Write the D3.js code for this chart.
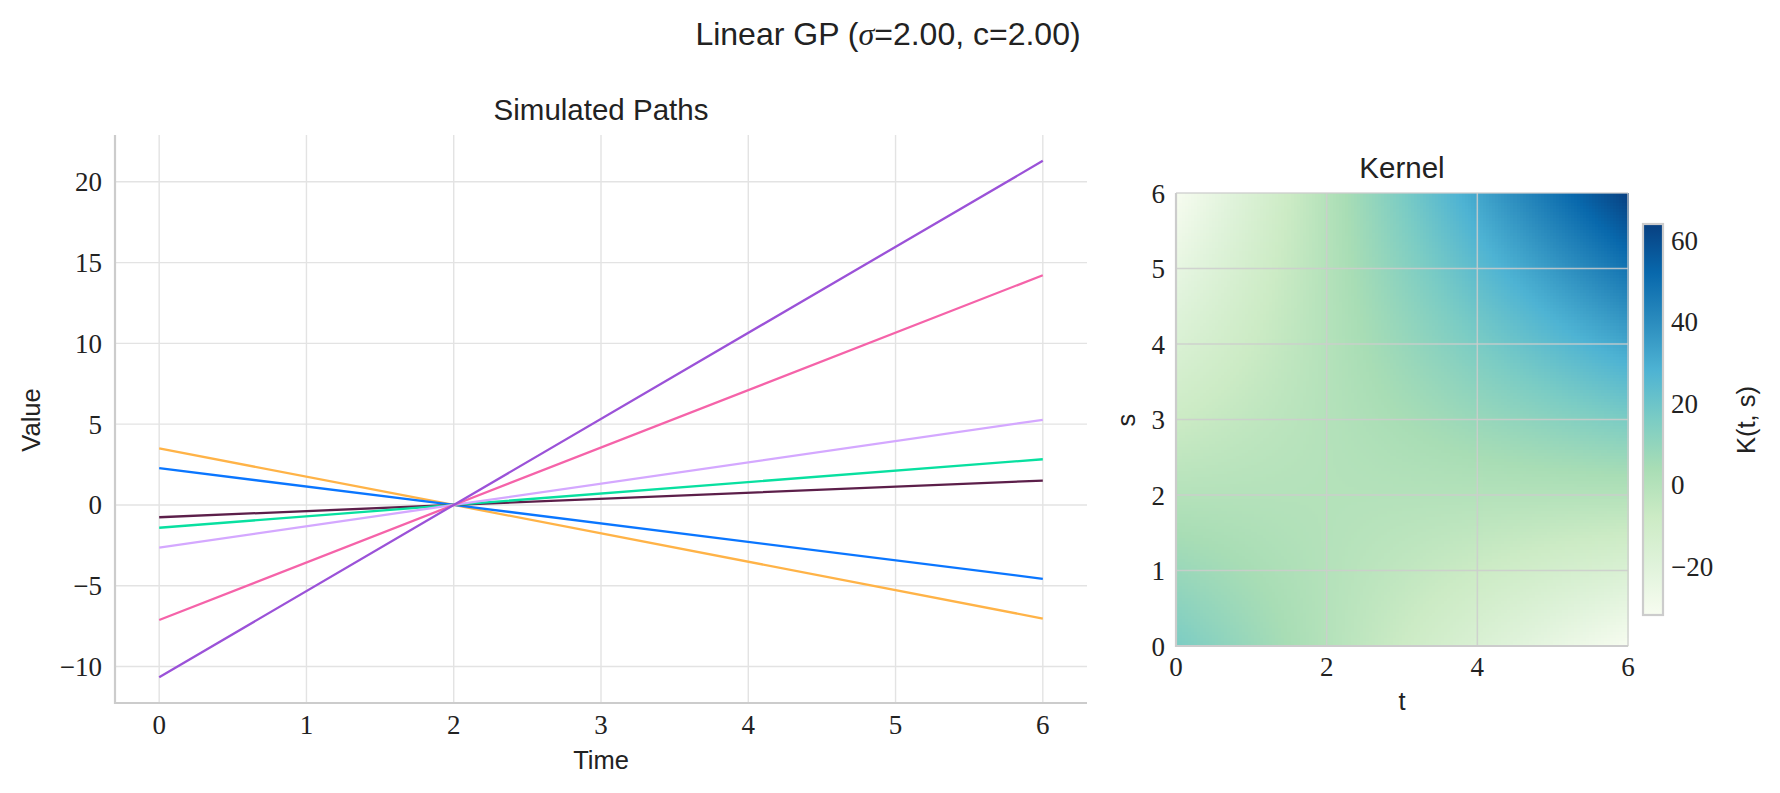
<!DOCTYPE html>
<html><head><meta charset="utf-8">
<script src="https://cdn.jsdelivr.net/npm/d3@7"></script>
<style>body{margin:0;background:#fff} svg{display:block}</style>
</head><body><svg id="c" width="1780" height="793"></svg>
<script>
// ---------- data ----------
const timePoints = [0, 2, 6];
const pathPurple   = [-10.66, 0, 21.30];
const pathPink     = [-7.12, 0, 14.22];
const pathLavender = [-2.64, 0, 5.27];
const pathGreen    = [-1.41, 0, 2.83];
const pathDark     = [-0.76, 0, 1.51];
const pathBlue     = [2.28, 0, -4.57];
const pathOrange   = [3.50, 0, -7.03];
const pathSeries = [pathOrange, pathBlue, pathDark, pathGreen, pathLavender, pathPink, pathPurple];
const pathColors = ["#ffb347", "#0a76ff", "#5c1f4a", "#08e0a0", "#d4a8ff", "#f563a9", "#9b52d8"];

const xTicks = [0, 1, 2, 3, 4, 5, 6];
const yTicks = [-10, -5, 0, 5, 10, 15, 20];

// kernel values K(t,s) read at integer grid points (rows = s, cols = t)
const kernelT = [0, 1, 2, 3, 4, 5, 6];
const kernelS = [0, 1, 2, 3, 4, 5, 6];
const kernelRows = [
  [16, 8, 0, -8, -16, -24, -32],
  [8, 4, 0, -4, -8, -12, -16],
  [0, 0, 0, 0, 0, 0, 0],
  [-8, -4, 0, 4, 8, 12, 16],
  [-16, -8, 0, 8, 16, 24, 32],
  [-24, -12, 0, 12, 24, 36, 48],
  [-32, -16, 0, 16, 32, 48, 64]
];
const kernelXTicks = [0, 2, 4, 6];
const kernelYTicks = [0, 1, 2, 3, 4, 5, 6];
const colorbarTicks = [-20, 0, 20, 40, 60];
const gnbuStops = ["#f7fcf0","#e0f3db","#ccebc5","#a8ddb5","#7bccc4","#4eb3d3","#2b8cbe","#0868ac","#084081"];

// ---------- setup ----------
const SANS = "'Liberation Sans', Arial, sans-serif";
const SERIF = "'Liberation Serif', 'Times New Roman', serif";
const TICK = 27, LABEL = 25.5, TITLE = 29.5;
const svg = d3.select("#c");
const fmt = v => (v < 0 ? "\u2212" + Math.abs(v) : String(v));

svg.append("text").attr("x", 888).attr("y", 45).attr("text-anchor", "middle")
  .attr("font-family", SANS).attr("font-size", 32).attr("fill", "#222")
  .html("Linear GP (<tspan font-family=\"Liberation Serif, serif\" font-style=\"italic\">σ</tspan>=2.00, c=2.00)");

// ---------- left: simulated paths ----------
const L = {x0: 115, x1: 1087, y0: 135, y1: 703};
const x = d3.scaleLinear().domain([-0.3, 6.3]).range([L.x0, L.x1]);
const allV = pathSeries.flat();
const ymin = d3.min(allV), ymax = d3.max(allV), pad = (ymax - ymin) * 0.05;
const y = d3.scaleLinear().domain([ymin - pad, ymax + pad]).range([L.y1, L.y0]);

const gL = svg.append("g");
gL.selectAll("line.gx").data(xTicks).join("line")
  .attr("x1", d => x(d)).attr("x2", d => x(d)).attr("y1", L.y0).attr("y2", L.y1)
  .attr("stroke", "#e3e3e3").attr("stroke-width", 1.4);
gL.selectAll("line.gy").data(yTicks).join("line")
  .attr("y1", d => y(d)).attr("y2", d => y(d)).attr("x1", L.x0).attr("x2", L.x1)
  .attr("stroke", "#e3e3e3").attr("stroke-width", 1.4);

const line = d3.line().x((d, i) => x(timePoints[i])).y(d => y(d));
gL.selectAll("path.p").data(pathSeries).join("path")
  .attr("d", d => line(d)).attr("fill", "none")
  .attr("stroke", (d, i) => pathColors[i]).attr("stroke-width", 2.3);

gL.append("line").attr("x1", L.x0).attr("x2", L.x0).attr("y1", L.y0).attr("y2", L.y1 + 1)
  .attr("stroke", "#cccccc").attr("stroke-width", 2.2);
gL.append("line").attr("x1", L.x0 - 1).attr("x2", L.x1).attr("y1", L.y1).attr("y2", L.y1)
  .attr("stroke", "#cccccc").attr("stroke-width", 2.2);

gL.selectAll("text.xt").data(xTicks).join("text")
  .attr("x", d => x(d)).attr("y", 734).attr("text-anchor", "middle")
  .attr("font-family", SERIF).attr("font-size", TICK).attr("fill", "#222").text(fmt);
gL.selectAll("text.yt").data(yTicks).join("text")
  .attr("x", 102).attr("y", d => y(d) + 9.5).attr("text-anchor", "end")
  .attr("font-family", SERIF).attr("font-size", TICK).attr("fill", "#222").text(fmt);

gL.append("text").attr("x", (L.x0 + L.x1) / 2).attr("y", 120).attr("text-anchor", "middle")
  .attr("font-family", SANS).attr("font-size", TITLE).attr("fill", "#222").text("Simulated Paths");
gL.append("text").attr("x", (L.x0 + L.x1) / 2).attr("y", 769).attr("text-anchor", "middle")
  .attr("font-family", SANS).attr("font-size", LABEL).attr("fill", "#222").text("Time");
gL.append("text").attr("transform", "translate(40,420) rotate(-90)").attr("text-anchor", "middle")
  .attr("font-family", SANS).attr("font-size", LABEL).attr("fill", "#222").text("Value");

// ---------- right: kernel heatmap ----------
const H = {x0: 1176, x1: 1628, y0: 193, y1: 646};
const kx = d3.scaleLinear().domain([0, 6]).range([H.x0, H.x1]);
const ky = d3.scaleLinear().domain([0, 6]).range([H.y1, H.y0]);
const kAll = kernelRows.flat();
const vmin = d3.min(kAll), vmax = d3.max(kAll);
const color = d3.scaleLinear()
  .domain(gnbuStops.map((c, i) => vmin + (vmax - vmin) * i / (gnbuStops.length - 1)))
  .range(gnbuStops).interpolate(d3.interpolateRgb).clamp(true);

// bilinear sampling of the read grid (imshow-style smooth rendering)
function kval(t, s) {
  const it = Math.min(Math.floor(t), kernelT.length - 2), is = Math.min(Math.floor(s), kernelS.length - 2);
  const ft = t - kernelT[it], fs = s - kernelS[is];
  const a = kernelRows[is][it], b = kernelRows[is][it + 1], c = kernelRows[is + 1][it], d = kernelRows[is + 1][it + 1];
  return a * (1 - ft) * (1 - fs) + b * ft * (1 - fs) + c * (1 - ft) * fs + d * ft * fs;
}
const N = 150, step = 6 / N;
const cells = [];
for (let j = 0; j < N; j++) for (let i = 0; i < N; i++) {
  cells.push({t: i * step, s: j * step, v: kval((i + 0.5) * step, (j + 0.5) * step)});
}
const gH = svg.append("g");
gH.append("g").attr("shape-rendering", "crispEdges").selectAll("rect").data(cells).join("rect")
  .attr("x", d => kx(d.t)).attr("y", d => ky(d.s + step))
  .attr("width", kx(step) - kx(0) + 0.6).attr("height", ky(0) - ky(step) + 0.6)
  .attr("fill", d => color(d.v));

gH.selectAll("line.hx").data(kernelXTicks).join("line")
  .attr("x1", d => kx(d)).attr("x2", d => kx(d)).attr("y1", H.y0).attr("y2", H.y1)
  .attr("stroke", "rgba(205,205,205,0.85)").attr("stroke-width", 1.5);
gH.selectAll("line.hy").data(kernelYTicks).join("line")
  .attr("y1", d => ky(d)).attr("y2", d => ky(d)).attr("x1", H.x0).attr("x2", H.x1)
  .attr("stroke", "rgba(205,205,205,0.85)").attr("stroke-width", 1.5);
gH.append("line").attr("x1", H.x0).attr("x2", H.x0).attr("y1", H.y0).attr("y2", H.y1 + 1)
  .attr("stroke", "#cccccc").attr("stroke-width", 2.2);
gH.append("line").attr("x1", H.x0 - 1).attr("x2", H.x1).attr("y1", H.y1).attr("y2", H.y1)
  .attr("stroke", "#cccccc").attr("stroke-width", 2.2);

gH.selectAll("text.kxt").data(kernelXTicks).join("text")
  .attr("x", d => kx(d)).attr("y", 676).attr("text-anchor", "middle")
  .attr("font-family", SERIF).attr("font-size", TICK).attr("fill", "#222").text(fmt);
gH.selectAll("text.kyt").data(kernelYTicks).join("text")
  .attr("x", 1165).attr("y", d => ky(d) + 9.5).attr("text-anchor", "end")
  .attr("font-family", SERIF).attr("font-size", TICK).attr("fill", "#222").text(fmt);

gH.append("text").attr("x", (H.x0 + H.x1) / 2).attr("y", 178).attr("text-anchor", "middle")
  .attr("font-family", SANS).attr("font-size", TITLE).attr("fill", "#222").text("Kernel");
gH.append("text").attr("x", (H.x0 + H.x1) / 2).attr("y", 710).attr("text-anchor", "middle")
  .attr("font-family", SANS).attr("font-size", LABEL).attr("fill", "#222").text("t");
gH.append("text").attr("transform", "translate(1135,420) rotate(-90)").attr("text-anchor", "middle")
  .attr("font-family", SANS).attr("font-size", LABEL).attr("fill", "#222").text("s");

// ---------- colorbar ----------
const C = {x0: 1643, x1: 1663, y0: 224, y1: 615};
const cy = d3.scaleLinear().domain([vmin, vmax]).range([C.y1, C.y0]);
const grad = svg.append("defs").append("linearGradient").attr("id", "cbg")
  .attr("x1", 0).attr("y1", 1).attr("x2", 0).attr("y2", 0);
grad.selectAll("stop").data(gnbuStops).join("stop")
  .attr("offset", (d, i) => i / (gnbuStops.length - 1)).attr("stop-color", d => d);
svg.append("rect").attr("x", C.x0).attr("y", C.y0).attr("width", C.x1 - C.x0).attr("height", C.y1 - C.y0)
  .attr("fill", "url(#cbg)").attr("stroke", "#cccccc").attr("stroke-width", 2.2);
svg.selectAll("text.cbt").data(colorbarTicks).join("text")
  .attr("x", 1671).attr("y", d => cy(d) + 9.5).attr("text-anchor", "start")
  .attr("font-family", SERIF).attr("font-size", TICK).attr("fill", "#222").text(fmt);
svg.append("text").attr("transform", "translate(1755,420) rotate(-90)").attr("text-anchor", "middle")
  .attr("font-family", SANS).attr("font-size", LABEL).attr("fill", "#222").text("K(t, s)");
</script></body></html>
